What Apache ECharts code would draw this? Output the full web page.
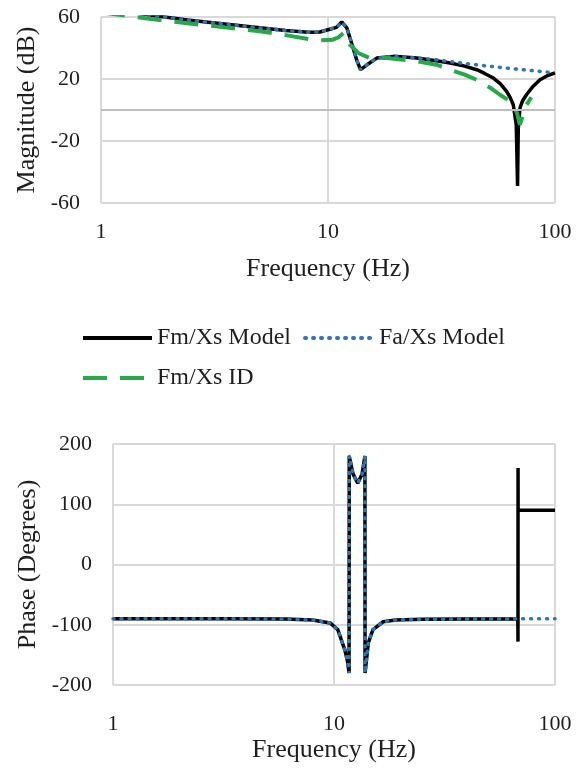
<!DOCTYPE html>
<html>
<head>
<meta charset="utf-8">
<script src="https://cdn.jsdelivr.net/npm/echarts@6/dist/echarts.min.js"></script>
<style>
  html, body { margin: 0; padding: 0; background: #ffffff; }
  #chart { width: 582px; height: 768px; }
</style>
</head>
<body>
<div id="chart"></div>
<script>
// ---- Magnitude response (dB) ----
const magFmFreq = [1, 1.3, 1.7, 2.4, 3.5, 5, 6.5, 8.2, 9.2, 10, 10.9, 11.5, 12.1, 12.9, 13.4, 13.9, 14.8, 16.4, 19.4, 24.6,
                   30, 34.5, 40, 45.2, 49, 53.5, 57.5, 61.2, 63.5, 65.5, 67.5, 68.4, 68.9, 70.1, 72, 75, 80, 85.9, 92, 100];
const magFmModel = [63.5, 63.5, 61, 58, 55.5, 53, 51.3, 50.2, 50.3, 51.8, 53.3, 56.8, 53, 40, 32, 26, 29, 33.5, 34.6, 33.5,
                    31.8, 30.3, 28.3, 26, 23.6, 20.6, 16.8, 12, 8, 3.4, -9.5, -49, -12, 1.3, 6, 10, 15.2, 19.5, 22, 24];

const magFaFreq = [1, 1.3, 1.7, 2.4, 3.5, 5, 6.5, 8.2, 9.2, 10, 10.9, 11.5, 12.1, 12.9, 13.4, 13.9, 14.8, 16.4, 19.4, 24.6,
                   30, 40, 57, 80, 100];
const magFaModel = [63.5, 63.5, 61, 58, 55.5, 53, 51.3, 50.2, 50.3, 51.8, 53.3, 56.8, 53, 40, 32, 26, 29, 33.5, 34.6, 33.6,
                    32.4, 30, 27.5, 25.4, 23.9];

const magIdFreq = [1, 1.6, 2.4, 3.5, 5, 6.5, 8.5, 9.2, 10.5, 11.1, 11.7, 12.5, 13.6, 15.3, 18.2, 24.6, 30, 34.5, 40, 46.7,
                   52, 57, 62, 65.5, 68, 70, 72.5, 75, 78.6];
const magFmId = [63, 59, 56, 53.3, 50.8, 48.3, 45.4, 45, 45.4, 46.8, 49.7, 42, 36.8, 33.5, 33.5, 31.4, 29.2, 26, 22.8, 18.5,
                 14.2, 10, 6.5, 3.4, -2, -9.5, -3, 3.4, 8.2];

// ---- Phase response (degrees) ----
const phaseFmFreq = [1, 3, 6, 8, 9.6, 10.4, 11.2, 11.5, 11.7, 11.72, 12.2, 12.8, 13.4, 13.8, 13.82, 14.3, 15, 16.7, 19, 25,
                     40, 67.9, 68, 68.05, 68.1, 100];
const phaseFmModel = [-90, -90, -90.5, -92, -97, -108, -142, -160, -180, 180, 150, 135, 150, 180, -180, -130, -108, -95, -92, -91,
                      -90.5, -90, -128, 160, 90, 90];

const phaseFaFreq = [1, 3, 6, 8, 9.6, 10.4, 11.2, 11.5, 11.7, 11.72, 12.2, 12.8, 13.4, 13.8, 13.82, 14.3, 15, 16.7, 19, 25,
                     40, 100];
const phaseFaModel = [-90, -90, -90.5, -92, -97, -108, -142, -160, -180, 180, 150, 135, 150, 180, -180, -130, -108, -95, -92, -91,
                      -90.5, -90];

// ---- Axis ranges ----
const freqRange = [1, 100];
const magRange = [-60, 60, 40];      // min, max, step
const phaseRange = [-200, 200, 100]; // min, max, step

const FONT = '"Liberation Serif", "Times New Roman", serif';
const TXT = '#1f1f1f';
const GRID = '#d9d9d9';

const pair = (xs, ys) => xs.map((x, i) => [x, ys[i]]);

const xAxisBase = (gridIndex, margin, nameGap) => ({
  type: 'log', logBase: 10, gridIndex,
  min: freqRange[0], max: freqRange[1],
  axisLine: { show: false }, axisTick: { show: false },
  splitLine: { show: true, lineStyle: { color: GRID, width: 2 } },
  axisLabel: { fontSize: 22, color: TXT, fontFamily: FONT, margin },
  name: 'Frequency (Hz)', nameLocation: 'middle', nameGap,
  nameTextStyle: { fontSize: 26, color: TXT, fontFamily: FONT }
});

const yAxisBase = (gridIndex, range, name, nameGap) => ({
  type: 'value', gridIndex,
  min: range[0], max: range[1], interval: range[2],
  axisLine: { show: false }, axisTick: { show: false },
  splitLine: { show: true, lineStyle: { color: GRID, width: 2 } },
  axisLabel: { fontSize: 22, color: TXT, fontFamily: FONT, margin: 21 },
  name, nameLocation: 'middle', nameGap,
  nameTextStyle: { fontSize: 26, color: TXT, fontFamily: FONT }
});

const black = { color: '#000000', width: 3.5, type: 'solid' };
const blueDot = { color: '#2e75b6', width: 3.5, type: [1, 7], cap: 'round' };
const greenDash = { color: '#27a84a', width: 4, type: [24, 13] };

const lineSeries = (name, data, lineStyle, axis, z) => ({
  name, type: 'line', data,
  xAxisIndex: axis, yAxisIndex: axis,
  symbol: 'none', showSymbol: false,
  lineStyle, itemStyle: { color: lineStyle.color },
  z, silent: true
});

const legendBase = {
  left: 81, itemWidth: 69, itemHeight: 14, itemGap: 12, padding: 0,
  selectedMode: false,
  itemStyle: { opacity: 0, borderWidth: 0 },
  lineStyle: { width: 4 },
  textStyle: { fontSize: 24, color: TXT, fontFamily: FONT }
};

const option = {
  animation: false,
  backgroundColor: '#ffffff',
  grid: [
    { left: 101, right: 27, top: 17, height: 186 },
    { left: 113, right: 27, top: 444, height: 241 }
  ],
  legend: [
    Object.assign({ data: ['Fm/Xs Model', 'Fa/Xs Model'], top: 326 }, legendBase),
    Object.assign({ data: ['Fm/Xs ID'], top: 366 }, legendBase)
  ],
  xAxis: [xAxisBase(0, 18, 53), xAxisBase(1, 28, 52)],
  yAxis: [
    yAxisBase(0, magRange, 'Magnitude (dB)', 60),
    yAxisBase(1, phaseRange, 'Phase (Degrees)', 72)
  ],
  series: [
    // horizontal axis line at 0 dB
    { type: 'line', data: [], xAxisIndex: 0, yAxisIndex: 0, z: 1, silent: true,
      markLine: { silent: true, symbol: 'none', label: { show: false },
        lineStyle: { color: '#bfbfbf', width: 2, type: 'solid' }, data: [{ yAxis: 0 }] } },
    lineSeries('Fm/Xs Model', pair(magFmFreq, magFmModel), black, 0, 2),
    lineSeries('Fa/Xs Model', pair(magFaFreq, magFaModel), blueDot, 0, 3),
    lineSeries('Fm/Xs ID', pair(magIdFreq, magFmId), greenDash, 0, 4),
    lineSeries('Fm/Xs Model', pair(phaseFmFreq, phaseFmModel), black, 1, 2),
    lineSeries('Fa/Xs Model', pair(phaseFaFreq, phaseFaModel), blueDot, 1, 3)
  ]
};

const chart = echarts.init(document.getElementById('chart'), null, { renderer: 'canvas' });
chart.setOption(option);
</script>
</body>
</html>
